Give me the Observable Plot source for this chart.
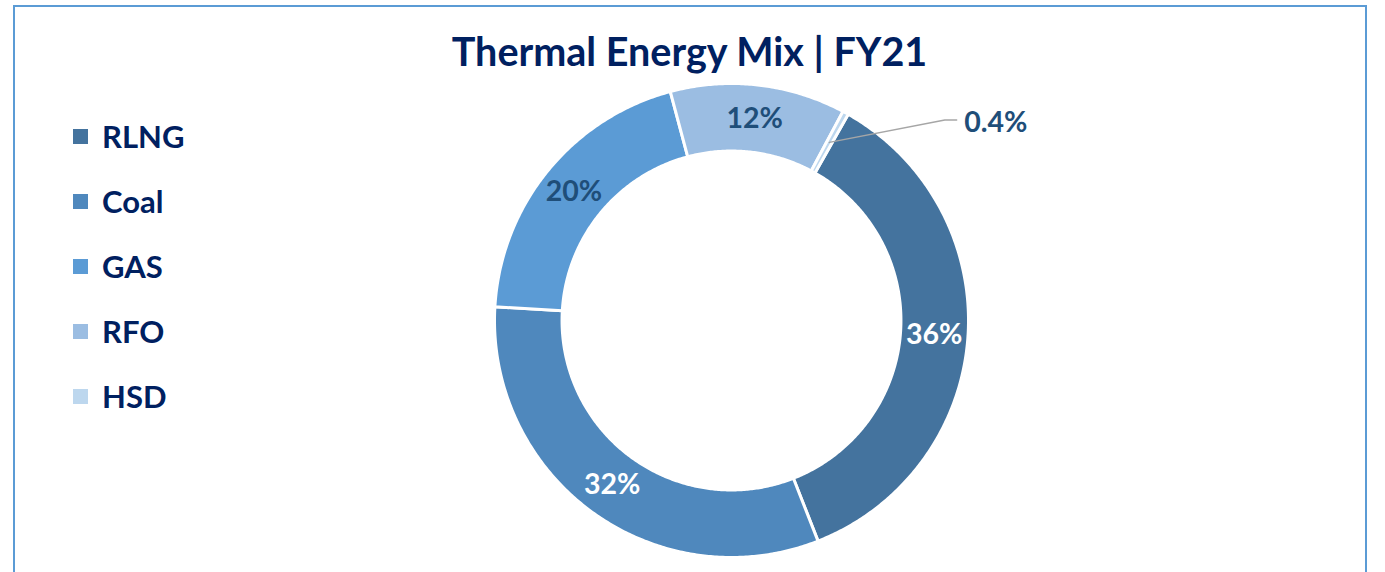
<!DOCTYPE html>
<html>
<head>
<meta charset="utf-8">
<script src="https://cdn.jsdelivr.net/npm/d3@7"></script>
<script src="https://cdn.jsdelivr.net/npm/@observablehq/plot@0.6"></script>
<style>
  html, body { margin: 0; padding: 0; background: #fff; }
  body { width: 1385px; height: 572px; position: relative; overflow: hidden; font-family: Lato, "Open Sans", sans-serif; }
  #frame { position: absolute; left: 13px; top: 5px; width: 1354px; height: 620px; border: 2px solid #5B9BD5; box-sizing: border-box; }
  #title { position: absolute; left: 0; width: 1379px; top: 31px; text-align: center; font-weight: 700; font-size: 39.5px; color: #002060; line-height: 1; white-space: nowrap; }
  #legend { position: absolute; left: 73px; top: 104px; }
  .item { position: relative; height: 65px; display: flex; align-items: center; }
  .sw { width: 15px; height: 15px; margin-right: 14px; }
  .lab { font-weight: 700; font-size: 31px; color: #002060; line-height: 1; }
  #chart { position: absolute; left: 0; top: 0; }
</style>
</head>
<body>
<div id="frame"></div>
<div id="chart"></div>
<div id="title">Thermal Energy Mix | FY21</div>
<div id="legend"></div>
<script>
// ---- data ----
const categories = ["RLNG", "Coal", "GAS", "RFO", "HSD"];
const shares = [36, 32, 20, 12, 0.4];
const shareLabels = ["36%", "32%", "20%", "12%", "0.4%"];
const palette = ["#44739E", "#4F88BD", "#5B9BD5", "#9BBDE2", "#BDD7EE"];
const labelColors = ["#ffffff", "#ffffff", "#1F4E79", "#1F4E79", "#1F4E79"];

const data = categories.map((c, i) => ({name: c, value: shares[i], label: shareLabels[i], labelColor: labelColors[i]}));

// ---- geometry (data units: outer radius = 1) ----
const W = 1385, H = 572;
const PX = 237;              // pixels per data unit
const CX = 731, CY = 320;    // donut centre in pixels
const INNER = 0.715;
const START = 29.5 * Math.PI / 180;

const pie = d3.pie().sort(null).value(d => d.value).startAngle(START).endAngle(START + 2 * Math.PI);
const arcs = pie(data);

const polar = (r, a) => ({x: r * Math.sin(a), y: r * Math.cos(a)});

const ring = arcs.flatMap(a => {
  const n = Math.max(3, Math.ceil((a.endAngle - a.startAngle) / (Math.PI / 360)));
  const pts = [];
  for (let i = 0; i <= n; i++) pts.push({name: a.data.name, ...polar(1, a.startAngle + (a.endAngle - a.startAngle) * i / n)});
  for (let i = n; i >= 0; i--) pts.push({name: a.data.name, ...polar(INNER, a.startAngle + (a.endAngle - a.startAngle) * i / n)});
  pts.push(pts[0]);
  return pts;
});

const midR = (1 + INNER) / 2;
const inside = arcs.filter(a => a.data.value >= 1).map(a => ({...a.data, ...polar(midR, (a.startAngle + a.endAngle) / 2)}));

// small slice: label outside with a leader line
const small = arcs.filter(a => a.data.value < 1);
const leader = small.flatMap(a => {
  const mid = (a.startAngle + a.endAngle) / 2;
  const p0 = polar(midR, mid);
  const p1 = polar(1.235, mid + 18 * Math.PI / 180);
  const p2 = {x: p1.x + 0.05, y: p1.y};
  return [p0, p1, p2].map(p => ({name: a.data.name, ...p}));
});
const outside = small.map(a => {
  const l = leader.filter(d => d.name === a.data.name);
  const e = l[l.length - 1];
  return {...a.data, x: e.x + 0.032, y: e.y - 0.01};
});

const chart = Plot.plot({
  width: W,
  height: H,
  margin: 0,
  x: {domain: [-CX / PX, (W - CX) / PX], axis: null},
  y: {domain: [(CY - H) / PX, CY / PX], axis: null},
  color: {domain: categories, range: palette},
  marks: [
    Plot.line(ring, {x: "x", y: "y", z: "name", fill: "name", stroke: "white", strokeWidth: 3, strokeLinejoin: "round"}),
    Plot.line(leader, {x: "x", y: "y", z: "name", stroke: "#A6A6A6", strokeWidth: 1.5}),
    Plot.text(inside, {x: "x", y: "y", text: "label", fill: "labelColor", fontSize: 28.5, fontWeight: 700, fontFamily: "Lato", textAnchor: "middle"}),
    Plot.text(outside, {x: "x", y: "y", text: "label", fill: "#1F4E79", fontSize: 28.5, fontWeight: 700, fontFamily: "Lato", textAnchor: "start"})
  ]
});
document.getElementById("chart").appendChild(chart);

// legend
const leg = document.getElementById("legend");
categories.forEach((c, i) => {
  const it = document.createElement("div");
  it.className = "item";
  it.innerHTML = `<div class="sw" style="background:${palette[i]}"></div><div class="lab">${c}</div>`;
  leg.appendChild(it);
});
</script>
</body>
</html>
